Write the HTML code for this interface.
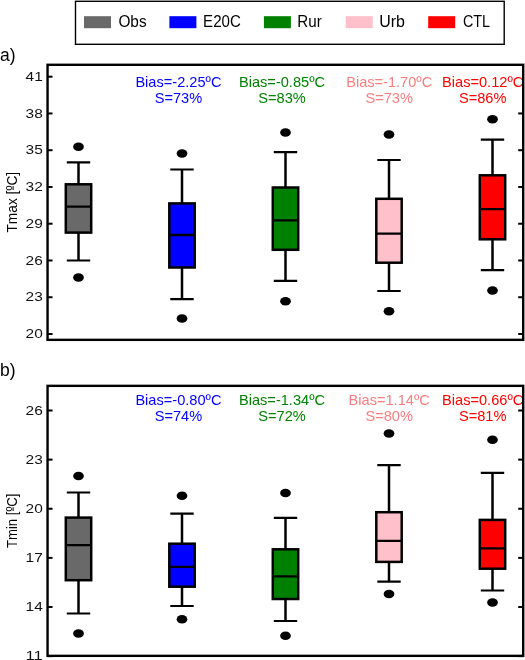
<!DOCTYPE html><html><head><meta charset="utf-8"><style>
html,body{margin:0;padding:0;background:#fff;width:525px;height:660px;overflow:hidden}
svg{display:block;will-change:transform}
text{font-family:"Liberation Sans",sans-serif}
.w{stroke:#000;stroke-width:2.5} .c{stroke:#000;stroke-width:2.2} .m{stroke:#000;stroke-width:2.3}
.b{stroke:#000;stroke-width:2.5} .fr{fill:none;stroke:#000;stroke-width:2.4} .t{stroke:#000;stroke-width:2}
.tk{font-size:13px;fill:#111} .an{font-size:14.6px;text-anchor:middle} .lg{font-size:16px;fill:#000} .pl{font-size:17.5px}
</style></head><body>
<svg width="525" height="660" viewBox="0 0 525 660">
<defs>
<clipPath id="ca"><rect x="47.55" y="64.8" width="475.65000000000003" height="275.05"/></clipPath>
<clipPath id="cb"><rect x="47.55" y="385.85" width="475.65000000000003" height="270.0"/></clipPath>
</defs>
<rect width="525" height="660" fill="#fff"/>
<rect x="75.5" y="1.3" width="428.7" height="43" fill="#fff" stroke="#000" stroke-width="1.4"/>
<rect x="84.0" y="16.2" width="27" height="12" fill="#696969"/>
<text x="118.4" y="27.4" class="lg" textLength="28.2" lengthAdjust="spacingAndGlyphs">Obs</text>
<rect x="169.4" y="16.2" width="27" height="12" fill="#0000ff"/>
<text x="203.1" y="27.4" class="lg" textLength="37.7" lengthAdjust="spacingAndGlyphs">E20C</text>
<rect x="263.9" y="16.2" width="27" height="12" fill="#008000"/>
<text x="297.3" y="27.4" class="lg" textLength="24.4" lengthAdjust="spacingAndGlyphs">Rur</text>
<rect x="345.7" y="16.2" width="27" height="12" fill="#ffc0cb"/>
<text x="379.2" y="27.4" class="lg" textLength="25.7" lengthAdjust="spacingAndGlyphs">Urb</text>
<rect x="428.2" y="16.2" width="27" height="12" fill="#ff0000"/>
<text x="462.9" y="27.4" class="lg" textLength="27.1" lengthAdjust="spacingAndGlyphs">CTL</text>
<text x="0" y="61.2" class="pl">a)</text>
<text x="0" y="376" class="pl">b)</text>
<g transform="translate(16.6 232.6) rotate(-90)"><text id="ylx" x="0" y="0" style="font-size:15px" textLength="60.8" lengthAdjust="spacingAndGlyphs">Tmax [ºC]</text><rect x="42.6" y="-4.0" width="3.9" height="1.0" fill="#000"/></g>
<g transform="translate(16.6 548.0) rotate(-90)"><text id="yln" x="0" y="0" style="font-size:15px" textLength="54.4" lengthAdjust="spacingAndGlyphs">Tmin [ºC]</text><rect x="37.0" y="-4.0" width="3.8" height="1.0" fill="#000"/></g>
<text x="178.4" y="87" fill="#0000ff" class="an">Bias=-2.25ºC</text>
<text x="178.4" y="103" fill="#0000ff" class="an">S=73%</text>
<text x="282" y="87" fill="#008000" class="an">Bias=-0.85ºC</text>
<text x="282" y="103" fill="#008000" class="an">S=83%</text>
<text x="389.2" y="87" fill="#f87e80" class="an">Bias=-1.70ºC</text>
<text x="389.2" y="103" fill="#f87e80" class="an">S=73%</text>
<text x="482.7" y="87" fill="#ff0000" class="an">Bias=0.12ºC</text>
<text x="482.7" y="103" fill="#ff0000" class="an">S=86%</text>
<text x="178.4" y="405.2" fill="#0000ff" class="an">Bias=-0.80ºC</text>
<text x="178.4" y="421.4" fill="#0000ff" class="an">S=74%</text>
<text x="282" y="405.2" fill="#008000" class="an">Bias=-1.34ºC</text>
<text x="282" y="421.4" fill="#008000" class="an">S=72%</text>
<text x="389.2" y="405.2" fill="#f87e80" class="an">Bias=1.14ºC</text>
<text x="389.2" y="421.4" fill="#f87e80" class="an">S=80%</text>
<text x="482.7" y="405.2" fill="#ff0000" class="an">Bias=0.66ºC</text>
<text x="482.7" y="421.4" fill="#ff0000" class="an">S=81%</text>
<g clip-path="url(#ca)">
<line x1="78.5" y1="162.3" x2="78.5" y2="184.3" class="w"/>
<line x1="78.5" y1="232.6" x2="78.5" y2="260.5" class="w"/>
<line x1="66.8" y1="162.3" x2="90.2" y2="162.3" class="c"/>
<line x1="66.8" y1="260.5" x2="90.2" y2="260.5" class="c"/>
<rect x="65.8" y="184.3" width="25.4" height="48.3" fill="#696969" class="b"/>
<line x1="65.8" y1="206.6" x2="91.2" y2="206.6" class="m"/>
<ellipse cx="78.5" cy="146.8" rx="5.35" ry="4.25"/>
<ellipse cx="78.5" cy="277.6" rx="5.35" ry="4.25"/>
</g>
<g clip-path="url(#ca)">
<line x1="182" y1="169.5" x2="182" y2="203.4" class="w"/>
<line x1="182" y1="267.5" x2="182" y2="299.1" class="w"/>
<line x1="170.3" y1="169.5" x2="193.7" y2="169.5" class="c"/>
<line x1="170.3" y1="299.1" x2="193.7" y2="299.1" class="c"/>
<rect x="169.3" y="203.4" width="25.4" height="64.1" fill="#0000ff" class="b"/>
<line x1="169.3" y1="235" x2="194.7" y2="235" class="m"/>
<ellipse cx="182" cy="153.4" rx="5.35" ry="4.25"/>
<ellipse cx="182" cy="318.6" rx="5.35" ry="4.25"/>
</g>
<g clip-path="url(#ca)">
<line x1="285.5" y1="152.2" x2="285.5" y2="187.5" class="w"/>
<line x1="285.5" y1="249.8" x2="285.5" y2="280.8" class="w"/>
<line x1="273.8" y1="152.2" x2="297.2" y2="152.2" class="c"/>
<line x1="273.8" y1="280.8" x2="297.2" y2="280.8" class="c"/>
<rect x="272.8" y="187.5" width="25.4" height="62.3" fill="#008000" class="b"/>
<line x1="272.8" y1="220.4" x2="298.2" y2="220.4" class="m"/>
<ellipse cx="285.5" cy="132.5" rx="5.35" ry="4.25"/>
<ellipse cx="285.5" cy="301.3" rx="5.35" ry="4.25"/>
</g>
<g clip-path="url(#ca)">
<line x1="389" y1="160" x2="389" y2="198.8" class="w"/>
<line x1="389" y1="262.7" x2="389" y2="291" class="w"/>
<line x1="377.3" y1="160" x2="400.7" y2="160" class="c"/>
<line x1="377.3" y1="291" x2="400.7" y2="291" class="c"/>
<rect x="376.3" y="198.8" width="25.4" height="63.9" fill="#ffc0cb" class="b"/>
<line x1="376.3" y1="233.7" x2="401.7" y2="233.7" class="m"/>
<ellipse cx="389" cy="134.6" rx="5.35" ry="4.25"/>
<ellipse cx="389" cy="311.3" rx="5.35" ry="4.25"/>
</g>
<g clip-path="url(#ca)">
<line x1="492.5" y1="139.7" x2="492.5" y2="175.3" class="w"/>
<line x1="492.5" y1="239.3" x2="492.5" y2="270.2" class="w"/>
<line x1="480.8" y1="139.7" x2="504.2" y2="139.7" class="c"/>
<line x1="480.8" y1="270.2" x2="504.2" y2="270.2" class="c"/>
<rect x="479.8" y="175.3" width="25.4" height="64" fill="#ff0000" class="b"/>
<line x1="479.8" y1="209.1" x2="505.2" y2="209.1" class="m"/>
<ellipse cx="492.5" cy="119.3" rx="5.35" ry="4.25"/>
<ellipse cx="492.5" cy="290.5" rx="5.35" ry="4.25"/>
</g>
<g clip-path="url(#cb)">
<line x1="78.5" y1="492.5" x2="78.5" y2="517.6" class="w"/>
<line x1="78.5" y1="580.2" x2="78.5" y2="613.5" class="w"/>
<line x1="66.8" y1="492.5" x2="90.2" y2="492.5" class="c"/>
<line x1="66.8" y1="613.5" x2="90.2" y2="613.5" class="c"/>
<rect x="65.8" y="517.6" width="25.4" height="62.6" fill="#696969" class="b"/>
<line x1="65.8" y1="545.2" x2="91.2" y2="545.2" class="m"/>
<ellipse cx="78.5" cy="476" rx="5.35" ry="4.25"/>
<ellipse cx="78.5" cy="633.4" rx="5.35" ry="4.25"/>
</g>
<g clip-path="url(#cb)">
<line x1="182" y1="513.7" x2="182" y2="543.7" class="w"/>
<line x1="182" y1="586.7" x2="182" y2="606" class="w"/>
<line x1="170.3" y1="513.7" x2="193.7" y2="513.7" class="c"/>
<line x1="170.3" y1="606" x2="193.7" y2="606" class="c"/>
<rect x="169.3" y="543.7" width="25.4" height="43" fill="#0000ff" class="b"/>
<line x1="169.3" y1="566.9" x2="194.7" y2="566.9" class="m"/>
<ellipse cx="182" cy="495.7" rx="5.35" ry="4.25"/>
<ellipse cx="182" cy="619.2" rx="5.35" ry="4.25"/>
</g>
<g clip-path="url(#cb)">
<line x1="285.5" y1="517.8" x2="285.5" y2="549.3" class="w"/>
<line x1="285.5" y1="599" x2="285.5" y2="621" class="w"/>
<line x1="273.8" y1="517.8" x2="297.2" y2="517.8" class="c"/>
<line x1="273.8" y1="621" x2="297.2" y2="621" class="c"/>
<rect x="272.8" y="549.3" width="25.4" height="49.7" fill="#008000" class="b"/>
<line x1="272.8" y1="576.4" x2="298.2" y2="576.4" class="m"/>
<ellipse cx="285.5" cy="493.1" rx="5.35" ry="4.25"/>
<ellipse cx="285.5" cy="635.7" rx="5.35" ry="4.25"/>
</g>
<g clip-path="url(#cb)">
<line x1="389" y1="465.1" x2="389" y2="512.2" class="w"/>
<line x1="389" y1="561.9" x2="389" y2="581.7" class="w"/>
<line x1="377.3" y1="465.1" x2="400.7" y2="465.1" class="c"/>
<line x1="377.3" y1="581.7" x2="400.7" y2="581.7" class="c"/>
<rect x="376.3" y="512.2" width="25.4" height="49.7" fill="#ffc0cb" class="b"/>
<line x1="376.3" y1="540.9" x2="401.7" y2="540.9" class="m"/>
<ellipse cx="389" cy="433.4" rx="5.35" ry="4.25"/>
<ellipse cx="389" cy="593.9" rx="5.35" ry="4.25"/>
</g>
<g clip-path="url(#cb)">
<line x1="492.5" y1="472.8" x2="492.5" y2="519.9" class="w"/>
<line x1="492.5" y1="568.7" x2="492.5" y2="590.5" class="w"/>
<line x1="480.8" y1="472.8" x2="504.2" y2="472.8" class="c"/>
<line x1="480.8" y1="590.5" x2="504.2" y2="590.5" class="c"/>
<rect x="479.8" y="519.9" width="25.4" height="48.8" fill="#ff0000" class="b"/>
<line x1="479.8" y1="548.3" x2="505.2" y2="548.3" class="m"/>
<ellipse cx="492.5" cy="439.7" rx="5.35" ry="4.25"/>
<ellipse cx="492.5" cy="602.4" rx="5.35" ry="4.25"/>
</g>
<line x1="47.55" y1="76.7" x2="52.55" y2="76.7" class="t"/>
<text x="25.6" y="80.8" class="tk" textLength="17.2" lengthAdjust="spacingAndGlyphs">41</text>
<line x1="47.55" y1="113.46" x2="52.55" y2="113.46" class="t"/>
<line x1="518.2" y1="113.46" x2="523.2" y2="113.46" class="t"/>
<text x="25.6" y="117.56" class="tk" textLength="17.2" lengthAdjust="spacingAndGlyphs">38</text>
<line x1="47.55" y1="150.21" x2="52.55" y2="150.21" class="t"/>
<line x1="518.2" y1="150.21" x2="523.2" y2="150.21" class="t"/>
<text x="25.6" y="154.31" class="tk" textLength="17.2" lengthAdjust="spacingAndGlyphs">35</text>
<line x1="47.55" y1="186.97" x2="52.55" y2="186.97" class="t"/>
<line x1="518.2" y1="186.97" x2="523.2" y2="186.97" class="t"/>
<text x="25.6" y="191.07" class="tk" textLength="17.2" lengthAdjust="spacingAndGlyphs">32</text>
<line x1="47.55" y1="223.72" x2="52.55" y2="223.72" class="t"/>
<line x1="518.2" y1="223.72" x2="523.2" y2="223.72" class="t"/>
<text x="25.6" y="227.82" class="tk" textLength="17.2" lengthAdjust="spacingAndGlyphs">29</text>
<line x1="47.55" y1="260.48" x2="52.55" y2="260.48" class="t"/>
<line x1="518.2" y1="260.48" x2="523.2" y2="260.48" class="t"/>
<text x="25.6" y="264.58" class="tk" textLength="17.2" lengthAdjust="spacingAndGlyphs">26</text>
<line x1="47.55" y1="297.24" x2="52.55" y2="297.24" class="t"/>
<line x1="518.2" y1="297.24" x2="523.2" y2="297.24" class="t"/>
<text x="25.6" y="301.34" class="tk" textLength="17.2" lengthAdjust="spacingAndGlyphs">23</text>
<line x1="47.55" y1="333.99" x2="52.55" y2="333.99" class="t"/>
<line x1="518.2" y1="333.99" x2="523.2" y2="333.99" class="t"/>
<text x="25.6" y="338.09" class="tk" textLength="17.2" lengthAdjust="spacingAndGlyphs">20</text>
<rect x="47.55" y="64.8" width="475.65" height="275.05" class="fr"/>
<line x1="47.55" y1="410.5" x2="52.55" y2="410.5" class="t"/>
<line x1="518.2" y1="410.5" x2="523.2" y2="410.5" class="t"/>
<text x="25.6" y="414.6" class="tk" textLength="17.2" lengthAdjust="spacingAndGlyphs">26</text>
<line x1="47.55" y1="459.62" x2="52.55" y2="459.62" class="t"/>
<line x1="518.2" y1="459.62" x2="523.2" y2="459.62" class="t"/>
<text x="25.6" y="463.73" class="tk" textLength="17.2" lengthAdjust="spacingAndGlyphs">23</text>
<line x1="47.55" y1="508.75" x2="52.55" y2="508.75" class="t"/>
<line x1="518.2" y1="508.75" x2="523.2" y2="508.75" class="t"/>
<text x="25.6" y="512.85" class="tk" textLength="17.2" lengthAdjust="spacingAndGlyphs">20</text>
<line x1="47.55" y1="557.88" x2="52.55" y2="557.88" class="t"/>
<line x1="518.2" y1="557.88" x2="523.2" y2="557.88" class="t"/>
<text x="25.6" y="561.98" class="tk" textLength="17.2" lengthAdjust="spacingAndGlyphs">17</text>
<line x1="47.55" y1="607" x2="52.55" y2="607" class="t"/>
<line x1="518.2" y1="607" x2="523.2" y2="607" class="t"/>
<text x="25.6" y="611.1" class="tk" textLength="17.2" lengthAdjust="spacingAndGlyphs">14</text>
<line x1="47.55" y1="656.12" x2="52.55" y2="656.12" class="t"/>
<line x1="518.2" y1="656.12" x2="523.2" y2="656.12" class="t"/>
<text x="25.6" y="660.23" class="tk" textLength="17.2" lengthAdjust="spacingAndGlyphs">11</text>
<rect x="47.55" y="385.85" width="475.65" height="270" class="fr"/>
</svg></body></html>
